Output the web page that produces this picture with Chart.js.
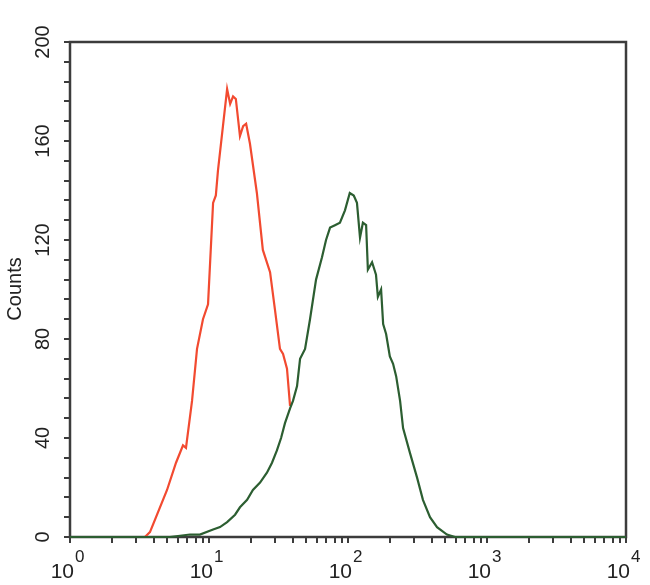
<!DOCTYPE html>
<html>
<head>
<meta charset="utf-8">
<script src="https://cdn.jsdelivr.net/npm/chart.js@4.4.1/dist/chart.umd.min.js"></script>
<style>
  html, body { margin: 0; padding: 0; background: #fff; }
  #chart { display: block; }
</style>
</head>
<body>
<canvas id="chart" width="650" height="585"></canvas>
<script>
// 赤: コントロール（アイソタイプ）
const redX = [1, 3.46, 3.76, 4.99, 5.79, 6.5, 6.83, 7.55, 8.2, 9.05, 9.84, 10.7, 11.2, 11.6, 12.6, 13.5, 14.2, 14.9, 15.6, 16.7, 17.6, 18.5, 19.7, 22.1, 24.4, 27.5, 29.8, 32.4, 34.1, 36.4, 38.3];
const redY = [0, 0, 2, 19, 30, 37, 36, 55, 76, 88, 94, 135, 138, 148, 166, 181, 175, 178, 177, 162, 166, 167, 159, 139, 116, 107, 92, 76, 74, 68, 53];

// 緑: 抗体染色
const greenX = [1, 5.24, 7.3, 8.6, 10.7, 12.0, 13.5, 15.4, 16.7, 18.8, 20.7, 23.3, 26.1, 28.4, 30.8, 33.0, 35.2, 38.3, 40.2, 43.0, 45.2, 49.1, 53.3, 58.9, 65.0, 69.5, 74.3, 80.6, 87.5, 95.1, 103, 110, 116, 122, 128, 135, 139, 149, 159, 164, 173, 179, 188, 200, 211, 222, 237, 249, 279, 314, 346, 389, 437, 515, 589, 10000];
const greenY = [0, 0, 1, 1, 3, 4, 6, 9, 12, 15, 19, 22, 26, 30, 35, 40, 46, 52, 55, 61, 72, 76, 88, 104, 113, 120, 125, 126, 127, 132, 139, 138, 135, 121, 127, 126, 108, 111, 106, 97, 100, 86, 82, 73, 70, 65, 55, 44, 34, 24, 15, 8, 4, 1, 0, 0];

const yLabels = [0, 40, 80, 120, 160, 200];
const xDecades = [0, 1, 2, 3, 4];
const yTitle = 'Counts';

const AXIS_COLOR = '#3c3c3c';
const TEXT_COLOR = '#222';
const FONT = '"Liberation Sans", Arial, sans-serif';

// log軸の目盛り（1〜9 × 10^k）
const xTickValues = [];
for (let k = 0; k < 4; k++) {
    for (let m = 1; m <= 9; m++) xTickValues.push(m * Math.pow(10, k));
}
xTickValues.push(10000);

function toPoints(xs, ys) {
    return xs.map((x, i) => ({ x: x, y: ys[i] }));
}

// 枠・ラベル描画
const framePlugin = {
    id: 'frame',
    beforeDatasetsDraw(chart) {
        const { ctx, chartArea: a } = chart;
        ctx.save();
        ctx.strokeStyle = AXIS_COLOR;
        ctx.lineWidth = 2.5;
        ctx.strokeRect(a.left, a.top, a.right - a.left, a.bottom - a.top);
        ctx.restore();
    },
    afterDraw(chart) {
        const { ctx, scales } = chart;
        const xs = scales.x, ys = scales.y;
        ctx.save();
        ctx.fillStyle = TEXT_COLOR;

        // y軸ラベル（回転）
        ctx.font = '20px ' + FONT;
        ctx.textAlign = 'center';
        ctx.textBaseline = 'middle';
        yLabels.forEach(v => {
            const py = ys.getPixelForValue(v);
            ctx.save();
            ctx.translate(43, py);
            ctx.rotate(-Math.PI / 2);
            ctx.fillText(String(v), 0, 0);
            ctx.restore();
        });

        // タイトル
        ctx.save();
        ctx.font = '20px ' + FONT;
        ctx.translate(15, 289);
        ctx.rotate(-Math.PI / 2);
        ctx.fillText(yTitle, 0, 0);
        ctx.restore();

        // x軸ラベル 10^n
        ctx.textBaseline = 'alphabetic';
        xDecades.forEach(n => {
            const px = xs.getPixelForValue(Math.pow(10, n));
            ctx.font = '21px ' + FONT;
            ctx.textAlign = 'right';
            ctx.fillText('10', px + 4, 578);
            ctx.font = '17px ' + FONT;
            ctx.textAlign = 'left';
            ctx.fillText(String(n), px + 5, 562);
        });
        ctx.restore();
    }
};

new Chart(document.getElementById('chart'), {
    type: 'line',
    data: {
        datasets: [
            {
                data: toPoints(greenX, greenY),
                borderColor: '#2c5e31',
                borderWidth: 2.2,
                pointRadius: 0,
                tension: 0,
                clip: 4
            },
            {
                data: toPoints(redX, redY),
                borderColor: '#f24a30',
                borderWidth: 2.2,
                pointRadius: 0,
                tension: 0,
                clip: 4
            }
        ]
    },
    options: {
        responsive: false,
        animation: false,
        layout: { padding: { left: 0, top: 42, right: 24, bottom: 0 } },
        plugins: { legend: { display: false }, tooltip: { enabled: false } },
        scales: {
            x: {
                type: 'logarithmic',
                min: 1,
                max: 10000,
                afterBuildTicks: scale => { scale.ticks = xTickValues.map(v => ({ value: v })); },
                afterFit: scale => { scale.height = 48; },
                ticks: { display: false },
                border: { display: false },
                grid: { drawOnChartArea: false, drawTicks: true, tickLength: 6, color: AXIS_COLOR, lineWidth: 2 }
            },
            y: {
                min: 0,
                max: 200,
                ticks: { display: false, stepSize: 8 },
                afterFit: scale => { scale.width = 70; },
                border: { display: false },
                grid: { drawOnChartArea: false, drawTicks: true, tickLength: 6, color: AXIS_COLOR, lineWidth: 2 }
            }
        }
    },
    plugins: [framePlugin]
});
</script>
</body>
</html>
